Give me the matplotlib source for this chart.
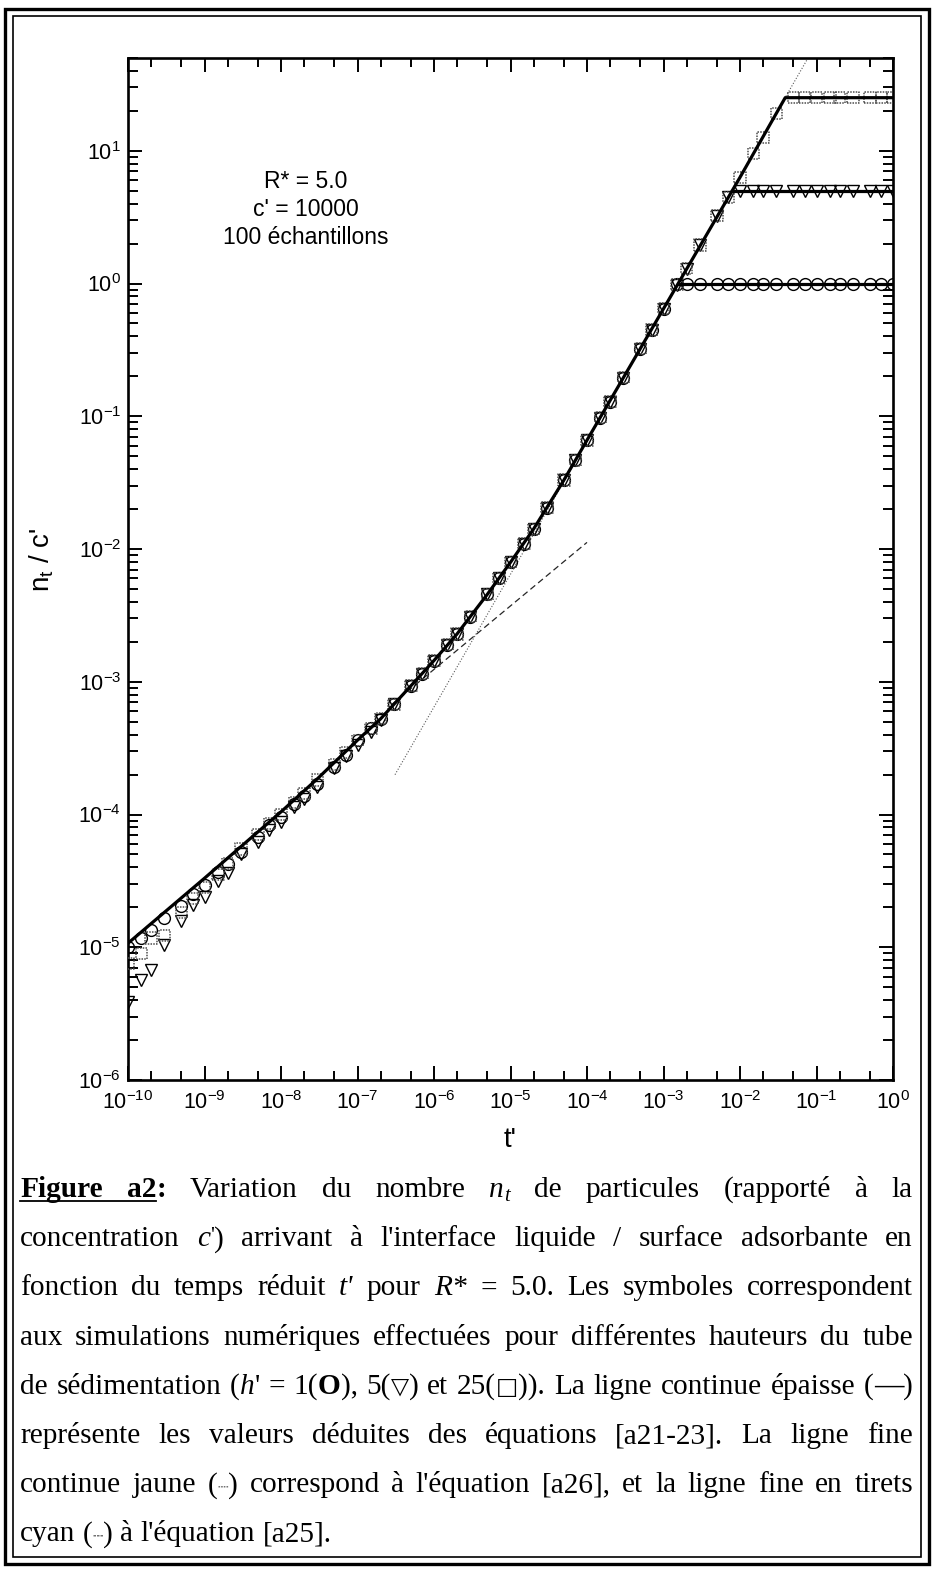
import matplotlib
matplotlib.use("Agg")
import matplotlib.pyplot as plt
import numpy as np
from matplotlib.lines import Line2D
from matplotlib.patches import Rectangle
from matplotlib.ticker import LogLocator, FuncFormatter, NullFormatter
from matplotlib.transforms import IdentityTransform

W, H, DPI = 933, 1571, 100

plt.rcParams["font.family"] = ["Liberation Sans", "DejaVu Sans"]
plt.rcParams["mathtext.default"] = "regular"

# ─────────────────────────────────────────────────────────────
# DATA  (t' sample times, log10 of n_t / c')
# ─────────────────────────────────────────────────────────────

sim_t = [1e-10, 1.5e-10, 2e-10, 3e-10, 5e-10, 7e-10,
         1e-9, 1.5e-9, 2e-9, 3e-9, 5e-9, 7e-9,
         1e-8, 1.5e-8, 2e-8, 3e-8, 5e-8, 7e-8,
         1e-7, 1.5e-7, 2e-7, 3e-7, 5e-7, 7e-7,
         1e-6, 1.5e-6, 2e-6, 3e-6, 5e-6, 7e-6,
         1e-5, 1.5e-5, 2e-5, 3e-5, 5e-5, 7e-5,
         1e-4, 1.5e-4, 2e-4, 3e-4, 5e-4, 7e-4,
         1e-3, 1.5e-3, 2e-3, 3e-3, 5e-3, 7e-3,
         1e-2, 1.5e-2, 2e-2, 3e-2, 5e-2, 7e-2,
         1e-1, 1.5e-1, 2e-1, 3e-1, 5e-1, 7e-1,
         1.0]

# h' = 1 (circles)
h1_log = [-5.00, -4.93, -4.87, -4.78, -4.69, -4.60,
          -4.53, -4.43, -4.37, -4.28, -4.17, -4.08,
          -4.02, -3.92, -3.86, -3.77, -3.64, -3.55,
          -3.44, -3.35, -3.28, -3.17, -3.03, -2.94,
          -2.84, -2.72, -2.64, -2.51, -2.34, -2.22,
          -2.10, -1.96, -1.85, -1.69, -1.48, -1.33,
          -1.18, -1.01, -0.89, -0.71, -0.49, -0.35,
          -0.19, 0.00, 0.00, 0.00, 0.00, 0.00,
          0.00, 0.00, 0.00, 0.00, 0.00, 0.00,
          0.00, 0.00, 0.00, 0.00, 0.00, 0.00,
          0.00]

# h' = 5 (triangles)
h5_log = [-5.41, -5.25, -5.17, -4.98, -4.80, -4.68,
          -4.62, -4.50, -4.44, -4.30, -4.21, -4.12,
          -4.06, -3.94, -3.88, -3.79, -3.65, -3.56,
          -3.48, -3.38, -3.29, -3.17, -3.03, -2.94,
          -2.84, -2.72, -2.64, -2.51, -2.34, -2.22,
          -2.10, -1.96, -1.85, -1.69, -1.48, -1.33,
          -1.18, -1.01, -0.89, -0.71, -0.49, -0.35,
          -0.19, -0.01, 0.11, 0.29, 0.51, 0.65,
          0.70, 0.70, 0.70, 0.70, 0.70, 0.70,
          0.70, 0.70, 0.70, 0.70, 0.70, 0.70,
          0.70]

# h' = 25 (squares)
h25_log = [-5.12, -5.05, -4.93, -4.91, -4.74, -4.63,
           -4.55, -4.45, -4.37, -4.26, -4.15, -4.07,
           -4.00, -3.91, -3.84, -3.74, -3.62, -3.53,
           -3.44, -3.35, -3.28, -3.17, -3.03, -2.94,
           -2.84, -2.72, -2.64, -2.51, -2.34, -2.22,
           -2.10, -1.96, -1.85, -1.69, -1.48, -1.33,
           -1.18, -1.01, -0.89, -0.71, -0.49, -0.35,
           -0.19, -0.01, 0.11, 0.29, 0.51, 0.65,
           0.80, 0.98, 1.10, 1.28, 1.40, 1.40,
           1.40, 1.40, 1.40, 1.40, 1.40, 1.40,
           1.40]

# equations [a21-23], thick line (rising part up to the h'=25 plateau)
theory_t = [1e-10, 1e-9, 1e-8, 3e-8, 1e-7, 2e-7, 5e-7, 1e-6, 2e-6, 5e-6,
            1e-5, 2e-5, 5e-5, 1e-4, 1e-3, 1e-2, 3.9e-2, 1.0]
theory_log = [-4.97, -4.48, -3.98, -3.73, -3.44, -3.28, -3.03, -2.84, -2.64, -2.34,
              -2.10, -1.85, -1.48, -1.18, -0.19, 0.80, 1.40, 1.40]
# plateaus for h' = 1 and h' = 5
plateau_t0 = [1.55e-3, 7.8e-3]
plateau_val = [1.0, 5.0]

# equation [a26] (thin dotted) and [a25] (thin dashed)
a26_t = [10 ** -6.51, 10 ** -1.11]
a26_log = [-3.70, 1.70]
a25_t = [10 ** -6.55, 10 ** -4.0]
a25_log = [-3.17, -1.95]

info_lines = ["R* = 5.0", "c' = 10000", "100 échantillons"]


# ─────────────────────────────────────────────────────────────
# CHART
# ─────────────────────────────────────────────────────────────

fig = plt.figure(figsize=(W / DPI, H / DPI), dpi=DPI)
PIX = IdentityTransform()

ax = fig.add_axes([128 / W, 1 - 1080 / H, (893 - 128) / W, (1080 - 58) / H])
ax.set_xscale("log")
ax.set_yscale("log")
ax.set_xlim(1e-10, 1.0)
ax.set_ylim(1e-6, 50)

t = np.array(sim_t)
ax.plot(t, 10 ** np.array(h1_log), ls="none", marker="o", ms=8.5,
        mfc="none", mec="k", mew=1.0, zorder=3)
ax.plot(t, 10 ** np.array(h5_log), ls="none", marker="v", ms=8.5,
        mfc="none", mec="k", mew=1.0, zorder=3)
ax.scatter(t, 10 ** np.array(h25_log), marker="s", s=8.0 ** 2,
           facecolors="none", edgecolors="0.3", linewidths=1.1,
           linestyles=(0, (1.0, 0.8)), zorder=3)

ax.plot(theory_t, 10 ** np.array(theory_log), color="k", lw=2.3, zorder=4)
for t0, v in zip(plateau_t0, plateau_val):
    ax.plot([t0, 1.0], [v, v], color="k", lw=2.3, zorder=4)

ax.plot(a26_t, 10 ** np.array(a26_log), color="0.35", lw=0.8,
        ls=(0, (1, 1.6)), zorder=2)
ax.plot(a25_t, 10 ** np.array(a25_log), color="0.15", lw=0.9,
        ls=(0, (5, 3)), zorder=2)

for side in ax.spines.values():
    side.set_linewidth(1.9)

ax.xaxis.set_major_locator(LogLocator(base=10, numticks=20))
ax.xaxis.set_minor_locator(LogLocator(base=10, subs=[2, 5], numticks=20))
ax.yaxis.set_major_locator(LogLocator(base=10, numticks=20))
ax.yaxis.set_minor_locator(LogLocator(base=10, subs=range(2, 10), numticks=20))
dec = FuncFormatter(lambda v, p: r"$\mathdefault{10^{%d}}$" % int(round(np.log10(v))))
ax.xaxis.set_major_formatter(dec)
ax.yaxis.set_major_formatter(dec)
ax.xaxis.set_minor_formatter(NullFormatter())
ax.yaxis.set_minor_formatter(NullFormatter())

ax.tick_params(which="both", direction="in", top=True, right=True,
               width=1.4, labelsize=15.5, colors="k")
ax.tick_params(axis="x", which="major", length=10, pad=8)
ax.tick_params(axis="x", which="minor", length=6.5)
ax.tick_params(axis="y", which="major", length=10, pad=5)
ax.tick_params(axis="y", which="minor", length=7.5)

fig.text(510, H - 1140, "t'", transform=PIX, ha="center", va="center", fontsize=20)
fig.text(42, H - 560, "n$_t$ / c'", transform=PIX, ha="center", va="center",
         fontsize=20, rotation=90)

for i, s in enumerate(info_lines):
    fig.text(306, H - (181 + 28.5 * i), s, transform=PIX, ha="center",
             va="center", fontsize=16.5)


# ─────────────────────────────────────────────────────────────
# CAPTION (justified, mixed styles)
# ─────────────────────────────────────────────────────────────

CAP_FONT = ["Liberation Serif", "DejaVu Sans"]
CAP_LEFT, CAP_RIGHT = 20, 913
CAP_BASE0, CAP_STEP = 1197, 49.2

N = {}
I = {"style": "italic"}
B = {"weight": "bold"}
UB = {"weight": "bold", "underline": True}
SUB = {"style": "italic", "scale": 0.7, "dy": -4}
SUP = {"scale": 0.75, "dy": 5}
SYM = {"family": ["DejaVu Sans"], "scale": 0.8}
MINI = {"family": ["DejaVu Sans"], "scale": 0.6, "color": "0.45"}

caption = [
    [[("Figure", UB)], [("a2", UB), (":", B)], "Variation", "du", "nombre",
     [("n", I), ("t", SUB)], "de", "particules", "(rapporté", "à", "la"],
    ["concentration", [("c", I), ("'", SUP), (")", N)], "arrivant", "à",
     "l'interface", "liquide", "/", "surface", "adsorbante", "en"],
    ["fonction", "du", "temps", "réduit", [("t'", I)], "pour", [("R*", I)],
     "=", "5.0.", "Les", "symboles", "correspondent"],
    ["aux", "simulations", "numériques", "effectuées", "pour", "différentes",
     "hauteurs", "du", "tube"],
    ["de", "sédimentation", [("(", N), ("h", I), ("'", N)], "=",
     [("1(", N), ("O", B), ("),", N)], [("5(", N), ("\u25BD", SYM), (")", N)], "et",
     [("25(", N), ("\u25A1", SYM), (")).", N)], "La", "ligne", "continue", "épaisse",
     [("(", N), ("\u2014", B), (")", N)]],
    ["représente", "les", "valeurs", "déduites", "des", "équations", "[a21-23].",
     "La", "ligne", "fine"],
    ["continue", "jaune", [("(", N), ("\u2508", MINI), (")", N)], "correspond", "à",
     "l'équation", "[a26],", "et", "la", "ligne", "fine", "en", "tirets"],
    ["cyan", [("(", N), ("\u2504", MINI), (")", N)], "à", "l'équation", "[a25]."],
]

renderer = fig.canvas.get_renderer()


def _make_run(text, st, size):
    return fig.text(0, 0, text, transform=PIX, fontsize=size * st.get("scale", 1.0),
                    family=st.get("family", CAP_FONT),
                    style=st.get("style", "normal"),
                    weight=st.get("weight", "normal"),
                    color=st.get("color", "k"), va="baseline", ha="left")


def _width(txt):
    return txt.get_window_extent(renderer).width


def _space(size):
    p1, p2 = _make_run("a a", N, size), _make_run("aa", N, size)
    gap = _width(p1) - _width(p2)
    p1.remove()
    p2.remove()
    return gap


def _build(size):
    lines = []
    for words in caption:
        built = []
        for w in words:
            runs = [(w, N)] if isinstance(w, str) else w
            built.append([(_make_run(s, st, size), st) for s, st in runs])
        lines.append(built)
    return lines


def _clear(lines):
    for built in lines:
        for arts in built:
            for a, _ in arts:
                a.remove()


# pick the size at which the tightest line just fills the text width
probe_size = 18.0
probe = _build(probe_size)
sp = _space(probe_size)
natural = [sum(_width(a) for arts in built for a, _ in arts) + sp * (len(built) - 1)
           for built in probe[:-1]]
_clear(probe)
CAP_SIZE = probe_size * (CAP_RIGHT - CAP_LEFT) / max(natural) * 0.985

lines = _build(CAP_SIZE)
SPACE = _space(CAP_SIZE)
for li, built in enumerate(lines):
    base = H - (CAP_BASE0 + CAP_STEP * li)
    widths = [sum(_width(a) for a, _ in arts) for arts in built]
    last = li == len(lines) - 1
    gap = SPACE if last else (CAP_RIGHT - CAP_LEFT - sum(widths)) / (len(built) - 1)
    x = CAP_LEFT
    ul_start = ul_end = None
    for arts in built:
        for a, st in arts:
            a.set_position((x, base + st.get("dy", 0)))
            aw = _width(a)
            if st.get("underline"):
                if ul_start is None:
                    ul_start = x
                ul_end = x + aw
            x += aw
        x += gap
    if ul_start is not None:
        fig.add_artist(Line2D([ul_start, ul_end], [base - 4, base - 4],
                              transform=PIX, color="k", lw=1.3))

# double frame around the figure
fig.add_artist(Rectangle((5, H - 1564), 924, 1564 - 9, transform=PIX,
                         fill=False, lw=2.4, ec="k"))
fig.add_artist(Rectangle((13, H - 1557), 908, 1557 - 16, transform=PIX,
                         fill=False, lw=1.2, ec="k"))

fig.savefig("out.png", dpi=DPI)
